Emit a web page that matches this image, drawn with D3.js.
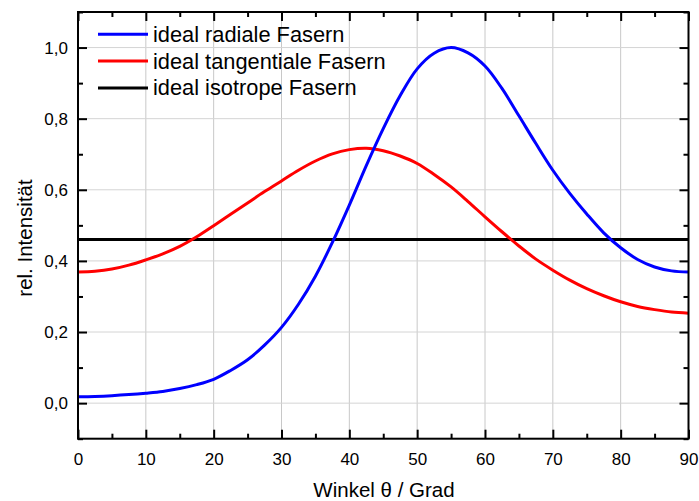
<!DOCTYPE html>
<html>
<head>
<meta charset="utf-8">
<script src="https://cdn.jsdelivr.net/npm/d3@7"></script>
<style>
  body { margin: 0; background: #fff; }
  text { font-family: "Liberation Sans", Arial, sans-serif; fill: #000; }
</style>
</head>
<body>
<svg id="chart" width="699" height="501"></svg>
<script>
// angle values (Grad)
const angles = [0, 2.5, 5, 7.5, 10, 12.5, 15, 17.5, 20, 22.5, 25, 27.5, 30, 32.5, 35, 37.5,
    40, 42.5, 45, 47.5, 50, 52.5, 55, 57.5, 60, 62.5, 65, 67.5, 70, 72.5, 75, 77.5,
    80, 82.5, 85, 87.5, 90];

const radial = [0.018, 0.019, 0.021, 0.024, 0.028, 0.033, 0.041, 0.052, 0.067, 0.092, 0.122, 0.163,
    0.213, 0.278, 0.357, 0.452, 0.557, 0.668, 0.772, 0.865, 0.94, 0.984, 1.0, 0.985, 0.948, 0.885,
    0.808, 0.73, 0.655, 0.59, 0.532, 0.479, 0.437, 0.404, 0.383, 0.372, 0.369];

const tangential = [0.369, 0.371, 0.377, 0.388, 0.403, 0.42, 0.441, 0.468, 0.499, 0.531, 0.563, 0.595,
    0.625, 0.655, 0.681, 0.701, 0.713, 0.717, 0.71, 0.695, 0.674, 0.643, 0.608, 0.567, 0.524, 0.482,
    0.442, 0.405, 0.374, 0.346, 0.322, 0.302, 0.285, 0.272, 0.263, 0.256, 0.253];

const isotropeValue = 0.46;

const seriesNames = ["ideal radiale Fasern", "ideal tangentiale Fasern", "ideal isotrope Fasern"];
const seriesColors = ["#0000ff", "#ff0000", "#000000"];

const xTicks = [0, 10, 20, 30, 40, 50, 60, 70, 80, 90];
const xMinor = [5, 15, 25, 35, 45, 55, 65, 75, 85];
const yTicks = [0, 0.2, 0.4, 0.6, 0.8, 1.0];
const yMinor = [-0.1, 0.1, 0.3, 0.5, 0.7, 0.9, 1.1];

const svg = d3.select("#chart");
const plotLeft = 78, plotRight = 688.5, plotTop = 12, plotBottom = 438.7;

const x = d3.scaleLinear().domain([0, 90]).range([plotLeft, plotRight]);
const y = d3.scaleLinear().domain([-0.1, 1.1]).range([plotBottom, plotTop]);

// grid
svg.append("g").selectAll("line").data(xTicks.slice(1, -1)).enter().append("line")
    .attr("x1", d => x(d)).attr("x2", d => x(d)).attr("y1", plotTop).attr("y2", plotBottom)
    .attr("stroke", "#c8c8c8").attr("stroke-width", 1);
svg.append("g").selectAll("line").data(yTicks).enter().append("line")
    .attr("x1", plotLeft).attr("x2", plotRight).attr("y1", d => y(d)).attr("y2", d => y(d))
    .attr("stroke", "#d4d4d4").attr("stroke-width", 1);

// curves
const line = d3.line().x(d => x(d[0])).y(d => y(d[1])).curve(d3.curveCatmullRom.alpha(0.5));
const seriesData = [
    angles.map((a, i) => [a, radial[i]]),
    angles.map((a, i) => [a, tangential[i]]),
    [[0, isotropeValue], [90, isotropeValue]]
];
// draw isotrope first, then tangential, then radial
[2, 1, 0].forEach(i => {
    svg.append("path").datum(seriesData[i])
        .attr("d", line)
        .attr("fill", "none")
        .attr("stroke", seriesColors[i])
        .attr("stroke-width", 3);
});

// axes with inward ticks
const axes = svg.append("g");
const ax = (gen, tr) => axes.append("g").attr("transform", tr).call(gen);
const tickStyle = g => {
    g.select(".domain").remove();
    g.selectAll("line").attr("stroke", "#000").attr("stroke-width", 2);
};

ax(d3.axisBottom(x).tickValues(xTicks).tickSize(-9).tickPadding(14).tickFormat(d3.format("d")),
    `translate(0,${plotBottom})`).call(tickStyle)
    .selectAll("text").attr("font-size", 17).attr("dy", "0.71em");
ax(d3.axisBottom(x).tickValues(xMinor).tickSize(-5).tickFormat(""), `translate(0,${plotBottom})`).call(tickStyle);
ax(d3.axisTop(x).tickValues(xTicks).tickSize(-9).tickFormat(""), `translate(0,${plotTop})`).call(tickStyle);
ax(d3.axisTop(x).tickValues(xMinor).tickSize(-5).tickFormat(""), `translate(0,${plotTop})`).call(tickStyle);

const commaFmt = d => d3.format(".1f")(d).replace(".", ",");
ax(d3.axisLeft(y).tickValues(yTicks).tickSize(-9).tickPadding(10).tickFormat(commaFmt),
    `translate(${plotLeft},0)`).call(tickStyle)
    .selectAll("text").attr("font-size", 17);
ax(d3.axisLeft(y).tickValues(yMinor).tickSize(-5).tickFormat(""), `translate(${plotLeft},0)`).call(tickStyle);
ax(d3.axisRight(y).tickValues(yTicks).tickSize(-9).tickFormat(""), `translate(${plotRight},0)`).call(tickStyle);
ax(d3.axisRight(y).tickValues(yMinor).tickSize(-5).tickFormat(""), `translate(${plotRight},0)`).call(tickStyle);

axes.selectAll("text").attr("font-family", "Liberation Sans, Arial, sans-serif").attr("fill", "#000");

// frame
svg.append("rect")
    .attr("x", plotLeft).attr("y", plotTop).attr("width", plotRight - plotLeft).attr("height", plotBottom - plotTop)
    .attr("fill", "none").attr("stroke", "#000").attr("stroke-width", 2);

// axis titles
svg.append("text")
    .attr("x", 384).attr("y", 497)
    .attr("text-anchor", "middle").attr("font-size", 20.5)
    .text("Winkel θ / Grad");
svg.append("text")
    .attr("transform", "translate(32,238) rotate(-90)")
    .attr("text-anchor", "middle").attr("font-size", 20.5)
    .text("rel. Intensität");

// legend
const legend = svg.append("g").selectAll("g").data(seriesNames).enter().append("g")
    .attr("transform", (d, i) => `translate(98,${34.3 + i * 26.8})`);
legend.append("line")
    .attr("x1", 0).attr("x2", 50).attr("y1", 0).attr("y2", 0)
    .attr("stroke", (d, i) => seriesColors[i]).attr("stroke-width", 3);
legend.append("text")
    .attr("x", 55).attr("y", 7.5)
    .attr("font-size", 21.8)
    .text(d => d);
</script>
</body>
</html>
